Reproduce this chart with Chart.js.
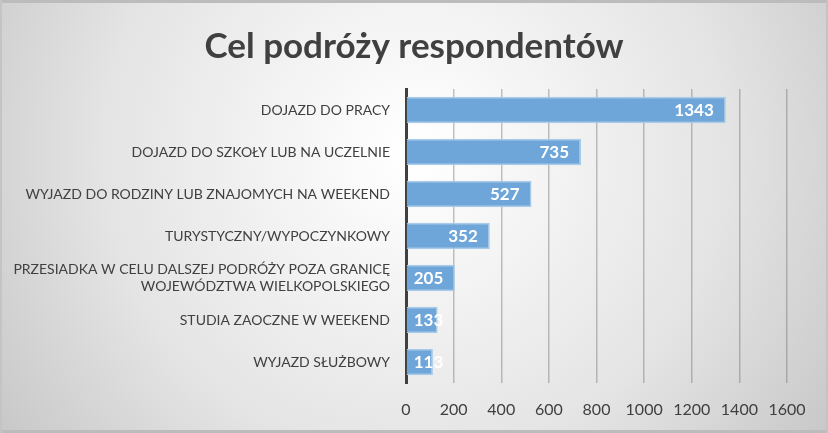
<!DOCTYPE html>
<html>
<head>
<meta charset="utf-8">
<script src="https://cdn.jsdelivr.net/npm/chart.js@4.4.0/dist/chart.umd.min.js"></script>
<style>
  html, body { margin: 0; padding: 0; }
  #wrap { width: 828px; height: 433px; }
</style>
</head>
<body>
<div id="wrap"><canvas id="mychart" width="828" height="433"></canvas></div>
<script>
const chartTitle = "Cel podróży respondentów";
const labels = [
    "DOJAZD DO PRACY",
    "DOJAZD DO SZKOŁY LUB NA UCZELNIE",
    "WYJAZD DO RODZINY LUB ZNAJOMYCH NA WEEKEND",
    "TURYSTYCZNY/WYPOCZYNKOWY",
    ["PRZESIADKA W CELU DALSZEJ PODRÓŻY POZA GRANICĘ", "WOJEWÓDZTWA WIELKOPOLSKIEGO"],
    "STUDIA ZAOCZNE W WEEKEND",
    "WYJAZD SŁUŻBOWY"
];
const values = [1343, 735, 527, 352, 205, 133, 113];
const xTicks = [0, 200, 400, 600, 800, 1000, 1200, 1400, 1600];

// Background gradient + frame + centered title --
const bgColor = {
    id: 'bgColor',
    beforeDraw: (chart) => {
        const {ctx, width, height} = chart;
        ctx.save();
        const g = ctx.createRadialGradient(width * 0.5, height * 0.35, 10, width * 0.5, height * 0.35, width * 0.62);
        g.addColorStop(0, '#ffffff');
        g.addColorStop(0.6, '#e4e4e4');
        g.addColorStop(1, '#c6c6c6');
        ctx.fillStyle = g;
        ctx.fillRect(0, 0, width, height);
        ctx.fillStyle = '#bcbcbc';
        ctx.fillRect(0, 0, width, 3);
        ctx.fillRect(0, height - 3, width, 3);
        ctx.fillStyle = '#c4c4c4';
        ctx.fillRect(0, 0, 2, height);
        ctx.fillRect(width - 2, 0, 2, height);

        ctx.font = 'bold 35px Lato';
        ctx.fillStyle = '#404040';
        ctx.textAlign = 'center';
        ctx.textBaseline = 'middle';
        ctx.fillText(chartTitle, width / 2, 47);
        ctx.restore();
    }
};

// White value labels at the inner end of each bar --
const valueLabels = {
    id: 'valueLabels',
    afterDatasetsDraw: (chart) => {
        const {ctx} = chart;
        const meta = chart.getDatasetMeta(0);
        ctx.save();
        ctx.font = 'bold 17px Lato';
        ctx.fillStyle = '#ffffff';
        ctx.textBaseline = 'middle';
        meta.data.forEach((bar, i) => {
            const txt = String(values[i]);
            const w = ctx.measureText(txt).width;
            let x = bar.x - 12 - w;
            if (x < bar.base + 7) x = bar.base + 7;
            ctx.fillText(txt, x, bar.y + 1);
        });
        ctx.restore();
    }
};

const options = {
    type: 'bar',
    data: {
        labels: labels,
        datasets: [{
            data: values,
            backgroundColor: '#6fa6d9',
            borderColor: '#a9cbea',
            borderWidth: 1.5,
            borderSkipped: 'start',
            barPercentage: 0.63,
            categoryPercentage: 1.0
        }]
    },
    options: {
        indexAxis: 'y',
        responsive: false,
        animation: false,
        layout: { padding: { left: 0, right: 41, top: 89, bottom: 0 } },
        plugins: {
            legend: { display: false },
            tooltip: { enabled: false },
            title: { display: false }
        },
        scales: {
            x: {
                min: 0,
                max: 1600,
                afterBuildTicks: (scale) => { scale.ticks = xTicks.map(v => ({value: v})); },
                afterFit: (scale) => { scale.height = 50; },
                grid: { color: 'rgba(110,110,110,0.42)', lineWidth: 1.5, drawTicks: false },
                border: { display: false },
                ticks: {
                    color: '#404040',
                    padding: 17,
                    maxRotation: 0,
                    font: { family: 'Lato', size: 16 },
                    callback: (v) => String(v)
                }
            },
            y: {
                afterFit: (scale) => { scale.width = 406; },
                grid: { display: false, drawTicks: false },
                border: { display: true, color: '#404040', width: 3 },
                ticks: {
                    color: '#404040',
                    padding: 16,
                    font: { family: 'Lato', size: 14 }
                }
            }
        }
    },
    plugins: [bgColor, valueLabels]
};

var ctx = document.getElementById('mychart').getContext('2d');
let chart = new Chart(ctx, options);
</script>
</body>
</html>
